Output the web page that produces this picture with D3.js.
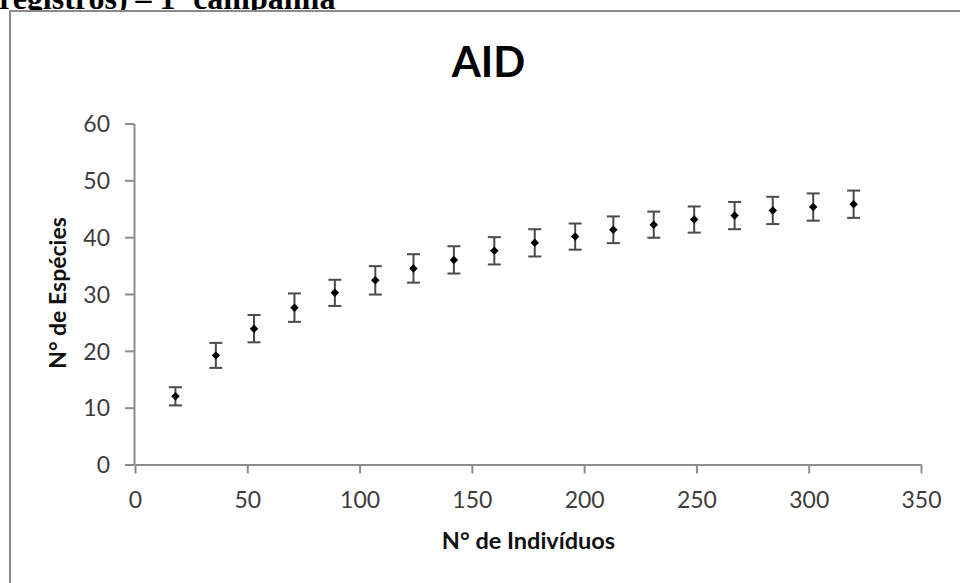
<!DOCTYPE html>
<html>
<head>
<meta charset="utf-8">
<script src="https://cdn.jsdelivr.net/npm/d3@7"></script>
<style>
  html, body { margin: 0; padding: 0; background: #fff; overflow: hidden; }
  svg { display: block; }
</style>
</head>
<body>
<svg id="chart" width="960" height="583"></svg>
<script>
// Rarefaction curve: number of species vs. number of individuals
const individuals = [18, 36, 53, 71, 89, 107, 124, 142, 160, 178, 196, 213, 231, 249, 267, 284, 302, 320];
const species     = [12.0, 19.2, 23.9, 27.6, 30.2, 32.4, 34.5, 36.0, 37.6, 39.0, 40.1, 41.3, 42.2, 43.1, 43.8, 44.7, 45.3, 45.8];
const errors      = [1.6, 2.2, 2.4, 2.5, 2.3, 2.5, 2.5, 2.4, 2.4, 2.4, 2.3, 2.35, 2.3, 2.3, 2.4, 2.4, 2.4, 2.4];
const xTicks = [0, 50, 100, 150, 200, 250, 300, 350];
const yTicks = [0, 10, 20, 30, 40, 50, 60];

const headerText = "registros) – 1ª campanha";
const chartTitle = "AID";
const xTitle = "N° de Indivíduos";
const yTitle = "N° de Espécies";

const svg = d3.select("#chart");

// Caption line running above the chart frame
svg.append("text")
  .attr("x", -1).attr("y", 9)
  .attr("font-family", "'Liberation Serif', 'Times New Roman', serif")
  .attr("font-weight", "bold")
  .attr("font-size", 32)
  .attr("fill", "#000")
  .text(headerText);

// Chart area frame
svg.append("rect")
  .attr("x", 10).attr("y", 11)
  .attr("width", 1000).attr("height", 1000)
  .attr("fill", "#fff")
  .attr("stroke", "#8a8a8a")
  .attr("stroke-width", 2);

const x = d3.scaleLinear().domain([0, 350]).range([135, 921]);
const y = d3.scaleLinear().domain([0, 60]).range([464.5, 123.5]);

const font = "Lato, 'Open Sans', sans-serif";
const axisColor = "#8c8c8c";

// X axis
const gx = svg.append("g")
  .attr("transform", `translate(0,${y(0)})`)
  .call(d3.axisBottom(x).tickValues(xTicks).tickSizeInner(9).tickSizeOuter(0).tickFormat(d3.format("d")));
gx.select(".domain").attr("stroke", axisColor).attr("stroke-width", 2);
gx.selectAll(".tick line").attr("stroke", axisColor).attr("stroke-width", 2);
gx.selectAll(".tick text")
  .attr("y", 43.5).attr("dy", 0)
  .attr("font-family", font).attr("font-size", 23).attr("fill", "#3c3c3c");

// Y axis
const gy = svg.append("g")
  .attr("transform", `translate(${x(0) - 1},0)`)
  .call(d3.axisLeft(y).tickValues(yTicks).tickSizeInner(9).tickSizeOuter(0).tickFormat(d3.format("d")));
gy.select(".domain").attr("stroke", axisColor).attr("stroke-width", 2);
gy.selectAll(".tick line").attr("stroke", axisColor).attr("stroke-width", 2);
gy.selectAll(".tick text")
  .attr("x", -24).attr("dy", "0.36em")
  .attr("font-family", font).attr("font-size", 23).attr("fill", "#3c3c3c");

// Title and axis titles
svg.append("text")
  .attr("x", 488.5).attr("y", 77)
  .attr("text-anchor", "middle")
  .attr("font-family", font).attr("font-weight", "bold").attr("font-size", 42)
  .attr("fill", "#000")
  .text(chartTitle);

svg.append("text")
  .attr("x", 528.5).attr("y", 549)
  .attr("text-anchor", "middle")
  .attr("font-family", font).attr("font-weight", "bold").attr("font-size", 23.5)
  .attr("fill", "#111")
  .text(xTitle);

svg.append("text")
  .attr("transform", `translate(66,293) rotate(-90)`)
  .attr("text-anchor", "middle")
  .attr("font-family", font).attr("font-weight", "bold").attr("font-size", 23)
  .attr("fill", "#111")
  .text(yTitle);

// Data with error bars
const data = individuals.map((v, i) => ({ x: v, y: species[i], e: errors[i] }));
const capHalf = 6.5;
const barColor = "#4a4a4a";

const pts = svg.append("g").selectAll("g").data(data).join("g");

pts.append("line")
  .attr("x1", d => x(d.x)).attr("x2", d => x(d.x))
  .attr("y1", d => y(d.y - d.e)).attr("y2", d => y(d.y + d.e))
  .attr("stroke", barColor).attr("stroke-width", 2);
pts.append("line")
  .attr("x1", d => x(d.x) - capHalf).attr("x2", d => x(d.x) + capHalf)
  .attr("y1", d => y(d.y + d.e)).attr("y2", d => y(d.y + d.e))
  .attr("stroke", barColor).attr("stroke-width", 2);
pts.append("line")
  .attr("x1", d => x(d.x) - capHalf).attr("x2", d => x(d.x) + capHalf)
  .attr("y1", d => y(d.y - d.e)).attr("y2", d => y(d.y - d.e))
  .attr("stroke", barColor).attr("stroke-width", 2);

pts.append("path")
  .attr("d", d3.symbol(d3.symbolSquare, 36)())
  .attr("transform", d => `translate(${x(d.x)},${y(d.y)}) rotate(45)`)
  .attr("fill", "#000");
</script>
</body>
</html>
